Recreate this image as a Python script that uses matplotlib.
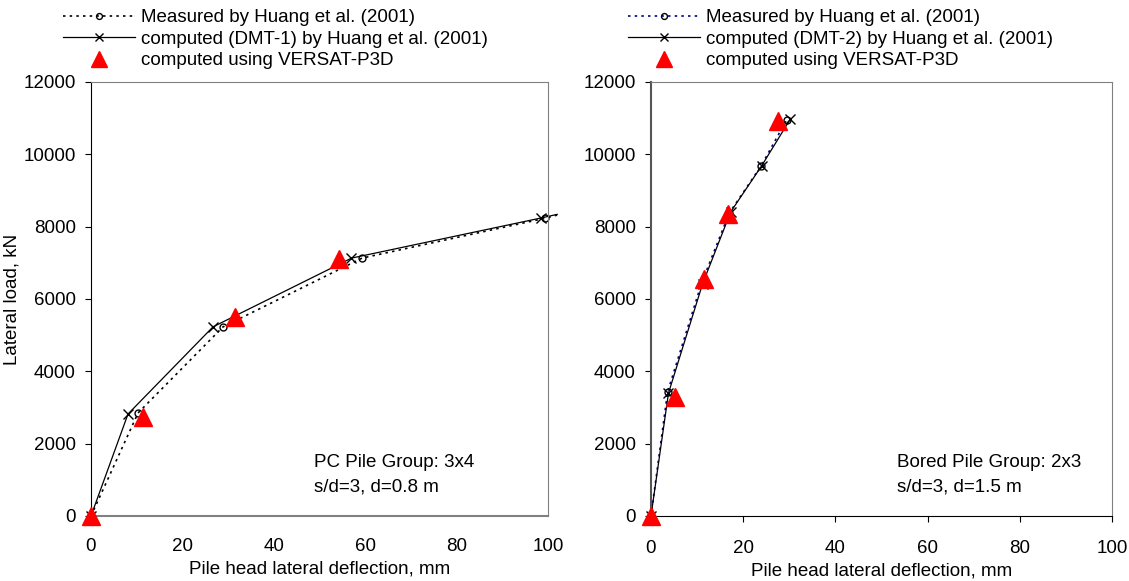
import matplotlib.pyplot as plt

plt.rcParams['font.family'] = ['Liberation Sans', 'DejaVu Sans']
plt.rcParams['font.size'] = 13.5

# left: PC pile group 3x4
meas1_x = [0, 10.3, 28.9, 59.3, 99.3, 102]
meas1_y = [0, 2850, 5230, 7130, 8230, 8320]
dmt1_x = [0, 8.1, 26.7, 57.0, 98.5, 102]
dmt1_y = [0, 2820, 5230, 7130, 8240, 8340]
vers1_x = [0, 11.4, 31.5, 54.3]
vers1_y = [0, 2740, 5500, 7100]

# right: bored pile group 2x3
meas2_x = [0, 3.6, 11.0, 17.0, 23.9, 29.4]
meas2_y = [0, 3430, 6450, 8380, 9680, 10950]
dmt2_x = [0, 3.8, 11.2, 17.3, 24.0, 30.2]
dmt2_y = [0, 3400, 6420, 8410, 9680, 10970]
vers2_x = [0, 5.3, 11.6, 16.6, 27.5]
vers2_y = [0, 3300, 6560, 8340, 10920]

xticks = [0, 20, 40, 60, 80, 100]
yticks = [0, 2000, 4000, 6000, 8000, 10000, 12000]

fig = plt.figure(figsize=(11.29, 5.81), dpi=100)
ax1 = fig.add_axes([0.0806, 0.1119, 0.4048, 0.747])
ax2 = fig.add_axes([0.5766, 0.1119, 0.4083, 0.747])

gray = '#808080'

def setup(ax, left_black):
    ax.set_xlim(0, 100)
    ax.set_ylim(0, 12000)
    ax.set_xticks(xticks)
    ax.set_yticks(yticks)
    for s in ['top', 'right']:
        ax.spines[s].set_color(gray)
    if left_black:
        ax.spines['left'].set_color('black')
        ax.spines['bottom'].set_color(gray)
        ax.spines['bottom'].set_linewidth(1.5)
        ax.tick_params(axis='x', length=0, pad=16)
        ax.tick_params(axis='y', length=4, pad=7)
    else:
        ax.spines['left'].set_color('#555555')
        ax.spines['left'].set_linewidth(1.5)
        ax.spines['bottom'].set_color('black')
        ax.tick_params(axis='x', length=4, pad=13)
        ax.tick_params(axis='y', length=4, pad=7)
    ax.set_xlabel('Pile head lateral deflection, mm', labelpad=4)

setup(ax1, True)
setup(ax2, False)

ax1.plot(meas1_x, meas1_y, linestyle=(0, (1.5, 2.5)), color='black', lw=1.2,
         marker='o', mfc='none', ms=5, markevery=list(range(len(meas1_x) - 1)),
         clip_on=False, label='Measured by Huang et al. (2001)')
ax1.plot(dmt1_x, dmt1_y, '-', color='black', lw=0.9, marker='x', ms=7,
         markevery=list(range(len(dmt1_x) - 1)), clip_on=False,
         label='computed (DMT-1) by Huang et al. (2001)')
ax1.plot(vers1_x, vers1_y, linestyle='none', marker='^', color='red', ms=13,
         clip_on=False, label='computed using VERSAT-P3D', zorder=5)

ax2.plot(meas2_x, meas2_y, linestyle=(0, (1.5, 2.5)), color='#000080', lw=1.2,
         marker='o', mfc='none', mec='black', ms=5, clip_on=False,
         label='Measured by Huang et al. (2001)')
ax2.plot(dmt2_x, dmt2_y, '-', color='black', lw=0.9, marker='x', ms=7,
         clip_on=False, label='computed (DMT-2) by Huang et al. (2001)')
ax2.plot(vers2_x, vers2_y, linestyle='none', marker='^', color='red', ms=13,
         clip_on=False, label='computed using VERSAT-P3D', zorder=5)

ax1.set_ylabel('Lateral load, kN', labelpad=2)

ax1.text(0.487, 0.095, 'PC Pile Group: 3x4\ns/d=3, d=0.8 m',
         transform=ax1.transAxes, va='center', ha='left', linespacing=1.55)
ax2.text(0.533, 0.095, 'Bored Pile Group: 2x3\ns/d=3, d=1.5 m',
         transform=ax2.transAxes, va='center', ha='left', linespacing=1.55)

for ax, x0 in [(ax1, 0.0558), (ax2, 0.556)]:
    leg = ax.legend(loc='upper left', bbox_to_anchor=(x0, 0.984),
                    bbox_transform=fig.transFigure, frameon=False, borderpad=0,
                    handlelength=3.85, handletextpad=0.3, labelspacing=0.23,
                    borderaxespad=0, markerscale=0.85)

fig.savefig('out.png', dpi=100)
